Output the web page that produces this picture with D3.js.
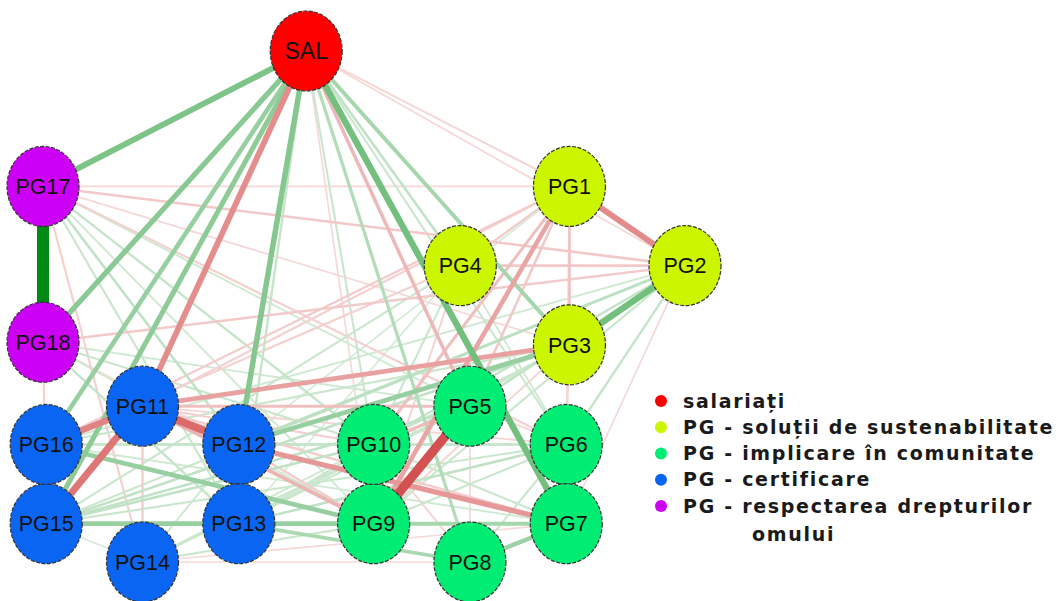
<!DOCTYPE html>
<html>
<head>
<meta charset="utf-8">
<script src="https://cdn.jsdelivr.net/npm/d3@7"></script>
<style>
  html, body { margin: 0; padding: 0; background: #ffffff; }
  svg { display: block; }
</style>
</head>
<body>
<svg id="chart" width="1059" height="601"></svg>
<script>
// Node names, their group and layout coordinates (layout space -1..1, like a qgraph layout)
const nodeNames = ["SAL","PG1","PG2","PG3","PG4","PG5","PG6","PG7","PG8","PG9",
                   "PG10","PG11","PG12","PG13","PG14","PG15","PG16","PG17","PG18"];
const nodeGroups = [0,1,1,1,1,2,2,2,2,2,2,3,3,3,3,3,3,4,4];
const layoutX = [-0.18, 0.64, 1.00, 0.64, 0.30, 0.33, 0.63, 0.63, 0.33, 0.03,
                  0.03, -0.69, -0.39, -0.39, -0.69, -0.99, -0.99, -1.00, -1.00];
const layoutY = [ 1.00, 0.47, 0.16, -0.15, 0.16, -0.39, -0.54, -0.85, -1.00, -0.85,
                 -0.54, -0.39, -0.54, -0.85, -1.00, -0.85, -0.54, 0.47, -0.14];

// Group labels and colours
const groupLabels = ["salariați", "PG - soluții de sustenabilitate", "PG - implicare în comunitate",
                     "PG - certificare", "PG - respectarea drepturilor omului"];
const groupColors = ["#ff0000", "#ccf500", "#00ec72", "#0a66f2", "#cc00f5"];

// Partial correlations: [from, to, weight]
const edgeFrom = [
  "PG17","PG5","PG11","PG11","PG11","SAL","PG1","PG12","PG3","PG1","PG9","PG11","SAL","PG1",
  "PG17","PG18",
  "SAL","SAL","SAL","SAL","SAL","SAL","PG2","PG12","PG16","PG15","PG8","PG9","PG13","PG15",
  "SAL","SAL","SAL","SAL","SAL","SAL","SAL","SAL","SAL",
  "PG17","PG17","PG17","PG17","PG17","PG17","PG17","PG17",
  "PG18","PG18","PG18","PG18","PG18","PG18",
  "PG2","PG2","PG2","PG2","PG2","PG2","PG2","PG2","PG2",
  "PG1","PG1","PG1","PG1","PG1","PG1","PG1","PG1",
  "PG4","PG4","PG4","PG4","PG4","PG4",
  "PG3","PG3","PG3","PG3","PG3","PG3",
  "PG16","PG16","PG16","PG16","PG15","PG15","PG15","PG15","PG15",
  "PG14","PG14","PG14","PG14","PG14","PG14","PG14",
  "PG13","PG13","PG13","PG13","PG12","PG12","PG12",
  "PG11","PG11","PG11","PG11",
  "PG10","PG10","PG10","PG10","PG5","PG5","PG6","PG6","PG6"
];
const edgeTo = [
  "PG18","PG9","PG12","PG15","PG16","PG11","PG2","PG7","PG11","PG9","PG11","PG3","PG5","PG3",
  "PG2","PG2",
  "PG17","PG18","PG16","PG15","PG12","PG7","PG3","PG3","PG9","PG9","PG7","PG7","PG8","PG13",
  "PG3","PG8","PG4","PG1","PG2","PG6","PG9","PG10","PG13",
  "PG12","PG13","PG10","PG9","PG14","PG6","PG3","PG5",
  "PG13","PG10","PG12","PG15","PG5","PG9",
  "PG5","PG10","PG12","PG9","PG6","PG7","PG4","PG16","PG15",
  "PG4","PG10","PG5","PG12","PG11","PG16","PG6","PG17",
  "PG10","PG16","PG15","PG9","PG6","PG13",
  "PG15","PG16","PG10","PG6","PG9","PG13",
  "PG10","PG12","PG7","PG15","PG10","PG5","PG7","PG6","PG14",
  "PG11","PG12","PG5","PG10","PG9","PG8","PG7",
  "PG10","PG5","PG6","PG7","PG10","PG6","PG9",
  "PG10","PG5","PG7","PG6",
  "PG6","PG8","PG7","PG5","PG6","PG8","PG9","PG8","PG7"
];
const edgeWeight = [
  1.00, -0.75, -0.62, -0.56, -0.50, -0.45, -0.46, -0.40, -0.36, -0.34, -0.26, -0.18, -0.24, -0.18,
  -0.16, -0.15,
  0.45, 0.40, 0.34, 0.38, 0.42, 0.50, 0.50, 0.34, 0.34, 0.34, 0.32, 0.28, 0.26, 0.22,
  0.28, 0.22, 0.16, -0.10, -0.08, 0.12, -0.08, 0.12, 0.14,
  0.16, 0.12, 0.14, 0.10, -0.12, -0.12, -0.08, 0.10,
  0.14, 0.12, -0.08, -0.12, 0.10, 0.10,
  0.16, 0.14, 0.18, 0.12, 0.14, -0.08, -0.16, 0.10, 0.12,
  -0.14, -0.20, -0.16, 0.08, -0.12, -0.14, -0.08, -0.08,
  0.12, -0.12, 0.12, -0.10, 0.10, 0.08,
  0.16, 0.12, 0.12, -0.10, -0.10, 0.12,
  0.14, 0.12, 0.10, 0.12, 0.16, 0.16, 0.14, 0.12, 0.08,
  -0.14, 0.10, 0.12, 0.10, 0.12, -0.08, -0.08,
  0.12, 0.12, 0.16, 0.16, 0.12, 0.14, -0.14,
  -0.12, -0.20, -0.14, -0.10,
  0.12, -0.10, 0.12, -0.22, -0.10, -0.08, 0.12, 0.12, 0.08
];

const svg = d3.select("#chart");

// Layout space to screen space
const x = d3.scaleLinear().domain([-1, 1]).range([43, 685]);
const y = d3.scaleLinear().domain([1, -1]).range([51, 562]);

// Edge appearance from |weight|
const maxW = d3.max(edgeWeight, w => Math.abs(w));
const widthScale = d3.scaleLinear().domain([0, maxW]).range([0.8, 12]);
const intensity = d3.scaleLinear().domain([0, maxW]).range([0.1, 1]);
const posColor = d3.interpolateRgb("#ffffff", "#008a14");
const negColor = d3.interpolateRgb("#ffffff", "#c81e1e");

const nodes = nodeNames.map((name, i) => ({
  name, group: nodeGroups[i], x: x(layoutX[i]), y: y(layoutY[i])
}));
const byName = new Map(nodes.map(n => [n.name, n]));

const edges = edgeFrom.map((f, i) => ({
  source: byName.get(f), target: byName.get(edgeTo[i]), w: edgeWeight[i]
})).sort((a, b) => Math.abs(a.w) - Math.abs(b.w));

svg.append("g").attr("class", "edges")
  .selectAll("line").data(edges).join("line")
  .attr("x1", d => d.source.x).attr("y1", d => d.source.y)
  .attr("x2", d => d.target.x).attr("y2", d => d.target.y)
  .attr("stroke", d => (d.w > 0 ? posColor : negColor)(intensity(Math.abs(d.w))))
  .attr("stroke-width", d => widthScale(Math.abs(d.w)))
  .attr("stroke-linecap", "butt");

const nodeG = svg.append("g").attr("class", "nodes")
  .selectAll("g").data(nodes).join("g")
  .attr("transform", d => `translate(${d.x},${d.y})`);

nodeG.append("ellipse")
  .attr("rx", 36).attr("ry", 40)
  .attr("fill", d => groupColors[d.group])
  .attr("stroke", "#333333")
  .attr("stroke-width", 1.2)
  .attr("stroke-dasharray", "4 1.5");

nodeG.append("text")
  .attr("text-anchor", "middle")
  .attr("dy", "0.36em")
  .attr("font-family", "'Liberation Sans', Arial, sans-serif")
  .attr("font-size", d => d.name === "SAL" ? 23 : 21.5)
  .attr("fill", "#111111")
  .text(d => d.name);

// Legend
const legend = svg.append("g").attr("class", "legend")
  .attr("font-family", "'DejaVu Sans', sans-serif")
  .attr("font-size", 19)
  .attr("font-weight", 600)
  .attr("letter-spacing", 1.7)
  .attr("fill", "#1a1a1a");

const rowY = d3.scalePoint().domain(d3.range(groupLabels.length)).range([401, 506]);

groupLabels.forEach((label, i) => {
  const row = legend.append("g").attr("transform", `translate(661,${rowY(i)})`);
  row.append("circle").attr("r", 6).attr("fill", groupColors[i]);
  const words = label.split(" ");
  if (i === 4) {
    row.append("text").attr("x", 22).attr("dy", "0.35em").text(words.slice(0, 4).join(" "));
    row.append("text").attr("x", 91).attr("dy", "0.35em").attr("y", 28).text(words.slice(4).join(" "));
  } else {
    row.append("text").attr("x", 22).attr("dy", "0.35em").text(label);
  }
});
</script>
</body>
</html>
